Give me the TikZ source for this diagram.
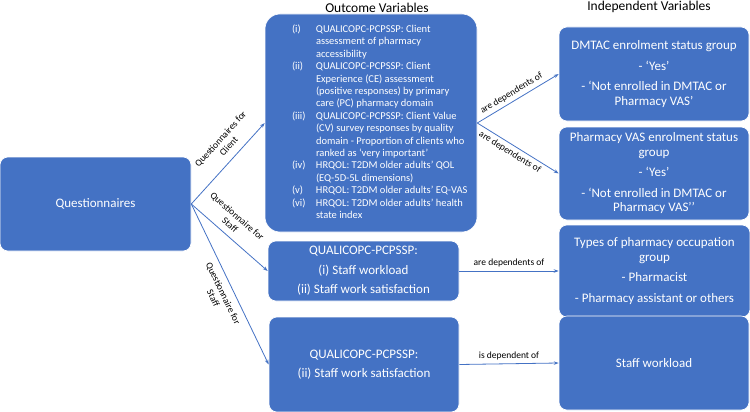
\documentclass[tikz,border=0pt]{standalone}
\usepackage{fontspec}
\setmainfont{Carlito}
\usepackage{array}
\usetikzlibrary{arrows.meta, positioning}
\usepackage{xcolor}
\definecolor{boxblue}{HTML}{4472C4}

\begin{document}
\begin{tikzpicture}[
  x=1pt, y=-1pt,
  varbox/.style={fill=boxblue, draw=white, line width=0.6pt, rounded corners=8pt,
    text=white, align=center, font=\fontsize{13}{14.5}\selectfont, inner sep=2pt},
  headnode/.style={font=\fontsize{13.5}{15}\selectfont},
  link/.style={draw=boxblue, line width=0.8pt, -{Stealth[length=5pt, width=3.5pt]}},
  linklabel/.style={font=\fontsize{9.5}{11}\selectfont, align=center, text=black}
]
  \useasboundingbox (0,0) rectangle (750,412);

  % column headings
  \node[headnode] (outhead) at (377,8) {Outcome Variables};
  \node[headnode] (indhead) at (649,7) {Independent Variables};

  % questionnaires
  \node[varbox, minimum width=191pt, minimum height=94pt] (quest) at (95.5,204) {Questionnaires};

  % outcome variables
  \node[varbox, rounded corners=15pt, minimum width=212pt, minimum height=218pt,
        font=\fontsize{10.5}{12.4}\selectfont] (outcome) at (371,123) {%
    \begin{tabular}{@{\hspace{18pt}}>{\raggedright}p{24pt}@{}>{\raggedright\arraybackslash}p{152pt}@{}}
      (i)   & QUALICOPC-PCPSSP: Client assessment of pharmacy accessibility\\
      (ii)  & QUALICOPC-PCPSSP: Client Experience (CE) assessment (positive responses) by primary care (PC) pharmacy domain\\
      (iii) & QUALICOPC-PCPSSP: Client Value (CV) survey responses by quality domain - Proportion of clients who ranked as ‘very important’\\
      (iv)  & HRQOL: T2DM older adults’ QOL (EQ-5D-5L dimensions)\\
      (v)   & HRQOL: T2DM older adults’ EQ-VAS\\
      (vi)  & HRQOL: T2DM older adults’ health state index
    \end{tabular}};
  \node[varbox, minimum width=191pt, minimum height=60pt] (staffa) at (363.5,271)
    {QUALICOPC-PCPSSP:\\[5pt] (i) Staff workload\\[5pt] (ii) Staff work satisfaction};
  \node[varbox, minimum width=190pt, minimum height=95pt] (staffb) at (364,364.5)
    {QUALICOPC-PCPSSP:\\[5pt] (ii) Staff work satisfaction};

  % independent variables
  \node[varbox, minimum width=190pt, minimum height=94pt] (dmtac) at (654,74)
    {DMTAC enrolment status group\\[6pt] - ‘Yes’\\[6pt] - ‘Not enrolled in DMTAC or\\ Pharmacy VAS’};
  \node[varbox, minimum width=190pt, minimum height=93pt] (vas) at (654,173.5)
    {Pharmacy VAS enrolment status\\ group\\[6pt] - ‘Yes’\\[6pt] - ‘Not enrolled in DMTAC or\\ Pharmacy VAS’’};
  \node[varbox, minimum width=191pt, minimum height=92pt] (types) at (654.5,271)
    {Types of pharmacy occupation\\ group\\[6pt] - Pharmacist\\[6pt] - Pharmacy assistant or others};
  \node[varbox, minimum width=190pt, minimum height=94pt] (workload) at (654,363) {Staff workload};

  % questionnaires to outcomes
  \draw[link] (quest.east) -- (outcome.west)
    node[linklabel, pos=0.62, sloped, above=4pt] {Questionnaires for\\ Client};
  \draw[link] (quest.east) -- (staffa.west)
    node[linklabel, pos=0.42, sloped, above=3pt] {Questionnaire for\\ Staff};
  \draw[link] (quest.east) -- (staffb.west)
    node[linklabel, pos=0.53, sloped, below=3pt] {Questionnaire for\\ Staff};

  % outcomes to independent variables
  \draw[link] (outcome.east) -- (dmtac.west)
    node[linklabel, pos=0.47, sloped, above] {are dependents of};
  \draw[link] (outcome.east) -- (vas.west)
    node[linklabel, pos=0.45, sloped, below] {are dependents of};
  \draw[link] (staffa.east) -- (types.west)
    node[linklabel, midway, above] {are dependents of};
  \draw[link] (staffb.east) -- (workload.west)
    node[linklabel, midway, above] {is dependent of};
\end{tikzpicture}
\end{document}
